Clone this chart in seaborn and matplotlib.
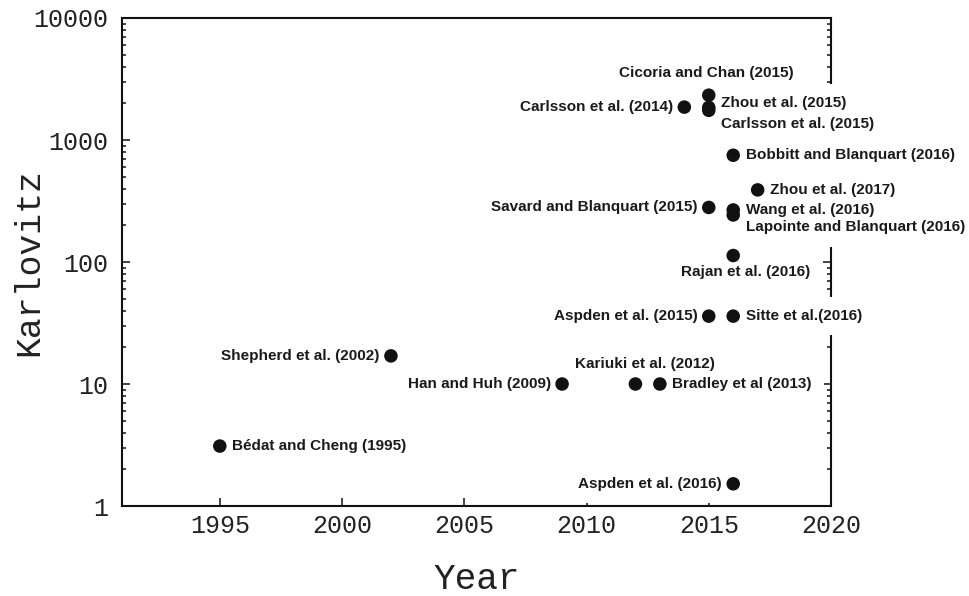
import pandas as pd
import matplotlib.pyplot as plt
import seaborn as sns

# data
studies = ["Bédat and Cheng (1995)", "Shepherd et al. (2002)", "Han and Huh (2009)",
           "Kariuki et al. (2012)", "Bradley et al (2013)", "Carlsson et al. (2014)",
           "Cicoria and Chan (2015)", "Zhou et al. (2015)", "Carlsson et al. (2015)",
           "Savard and Blanquart (2015)", "Aspden et al. (2015)", "Bobbitt and Blanquart (2016)",
           "Wang et al. (2016)", "Lapointe and Blanquart (2016)", "Rajan et al. (2016)",
           "Sitte et al.(2016)", "Aspden et al. (2016)", "Zhou et al. (2017)"]
years = [1995, 2002, 2009, 2012, 2013, 2014, 2015, 2015, 2015, 2015, 2015,
         2016, 2016, 2016, 2016, 2016, 2016, 2017]
karlovitz = [3.1, 17, 10, 10, 10, 1860, 2330, 1850, 1750, 280, 36,
             750, 267, 243, 113, 36, 1.52, 390]
x_ticks = [1995, 2000, 2005, 2010, 2015, 2020]
y_ticks = [1, 10, 100, 1000, 10000]
y_tick_labels = ["1", "10", "100", "1000", "10000"]

# label placement (offset in points, alignment)
label_pos = [(9, 0, "left"), (-8, 0, "right"), (-8, 0, "right"), (6.5, 14.5, "center"),
             (9, 0, "left"), (-8, 0, "right"), (-2, 16, "center"), (9, 3, "left"),
             (9, -9.5, "left"), (-8, 0, "right"), (-8, 0, "right"), (9, 0, "left"),
             (9, 0, "left"), (9, -9, "left"), (9, -12, "center"), (9, 0, "left"),
             (-8, 0, "right"), (9, 0, "left")]

df = pd.DataFrame({"study": studies, "year": years, "Ka": karlovitz})

sns.set_style("ticks")
plt.rcParams["font.family"] = ["Liberation Mono", "DejaVu Sans Mono"]

fig = plt.figure(figsize=(9.69, 5.96), dpi=100)
ax = fig.add_axes([0.1259, 0.151, 0.7317, 0.8188])

sns.scatterplot(data=df, x="year", y="Ka", color="#111111", s=95,
                edgecolor="none", zorder=5, ax=ax, legend=False)

ax.set_yscale("log")
ax.set_xlim(1991, 2020)
ax.set_ylim(1, 10000)
ax.set_xticks(x_ticks)
ax.set_xticklabels([str(t) for t in x_ticks])
ax.set_yticks(y_ticks)
ax.set_yticklabels(y_tick_labels)

for s in ax.spines.values():
    s.set_linewidth(1.5)
    s.set_color("#111111")
ax.tick_params(which="both", direction="in", left=True, right=True, top=False,
               color="#111111", width=1.1)
ax.tick_params(which="major", length=6, labelsize=18, labelcolor="#222222")
ax.tick_params(which="minor", length=3)
ax.tick_params(axis="y", pad=10)
ax.tick_params(axis="x", pad=6)

ax.set_xlabel("Year", fontsize=26, color="#222222")
ax.set_ylabel("Karlovitz", fontsize=25, color="#222222")
ax.xaxis.set_label_coords(0.5, -0.115)
ax.yaxis.set_label_coords(-0.108, 0.5)

lab_font = dict(family=["Liberation Sans", "DejaVu Sans"], weight="bold", size=11)
# white boxes first (they hide the frame behind the labels), then the text on top
for txt, yr, k, (dx, dy, ha) in zip(studies, years, karlovitz, label_pos):
    ax.annotate(txt, xy=(yr, k), xytext=(dx, dy), textcoords="offset points",
                ha=ha, va="center", color="none", zorder=3,
                bbox=dict(boxstyle="square,pad=0.8", fc="white", ec="none"), **lab_font)
for txt, yr, k, (dx, dy, ha) in zip(studies, years, karlovitz, label_pos):
    ax.annotate(txt, xy=(yr, k), xytext=(dx, dy), textcoords="offset points",
                ha=ha, va="center", color="#1a1a1a", zorder=4, **lab_font)

plt.savefig("out.png", dpi=100)
